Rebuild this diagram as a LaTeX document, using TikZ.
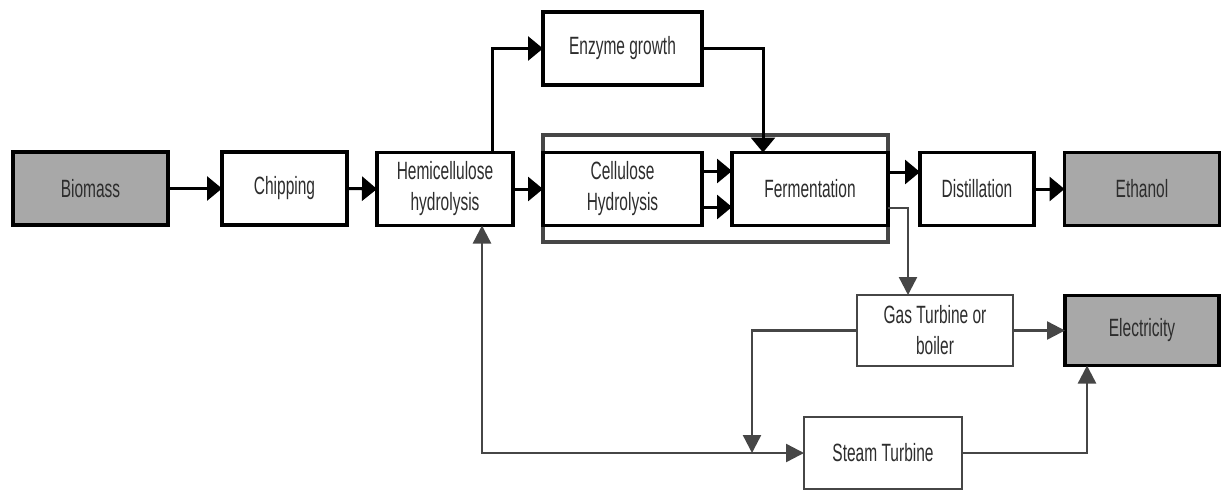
\documentclass[tikz,border=0pt]{standalone}
\usepackage{fontspec}
\setmainfont{Liberation Sans}[FakeStretch=0.62]
\usetikzlibrary{arrows.meta}
\definecolor{boxgray}{RGB}{168,168,168}
\definecolor{linegray}{RGB}{70,70,70}
\definecolor{txt}{RGB}{45,45,45}
\begin{document}
\begin{tikzpicture}[x=1pt,y=-1pt,
  box/.style={draw=black, line width=3.5pt, fill=white, inner sep=0pt, outer sep=0pt,
    align=center, text=txt, font=\fontsize{25}{31}\selectfont,
    minimum width=#1, minimum height=73pt},
  box/.default=156pt,
  graybox/.style={box=#1, fill=boxgray},
  graybox/.default=155pt,
  thinbox/.style={box=#1, draw=linegray, line width=2.6pt, minimum height=71pt},
  thinbox/.default=156pt,
  flow/.style={draw=black, line width=3pt, -{Triangle[length=15pt,width=24pt]}},
  side/.style={draw=linegray, line width=2.4pt, -{Triangle[length=18pt,width=18pt]}},
]
\useasboundingbox (0,0) rectangle (1222,490);

% frame around the hydrolysis / fermentation pair
\node[draw=linegray, line width=3.2pt, fill=white, inner sep=0pt, outer sep=0pt,
  minimum width=345pt, minimum height=107pt] (cellframe) at (715.5,188.5) {};

% main line of boxes
\node[graybox] (biomass) at (90.5,188.5) {Biomass};
\node[box=125pt] (chipping) at (284.5,188.5) {Chipping};
\node[box=136pt] (hemi) at (445,189) {Hemicellulose\\hydrolysis};
\node[box=159pt] (cellulose) at (622.5,189) {Cellulose\\Hydrolysis};
\node[box=156pt] (ferm) at (810,189) {Fermentation};
\node[box=114pt] (dist) at (977,189) {Distillation};
\node[graybox] (ethanol) at (1142,189) {Ethanol};

% side branches
\node[box=159pt] (enzyme) at (622.5,48.5) {Enzyme growth};
\node[thinbox] (gas) at (935,330.5) {Gas Turbine or\\boiler};
\node[graybox=154pt, minimum height=70pt] (elec) at (1142,330.5) {Electricity};
\node[thinbox=158pt, minimum height=72pt] (steam) at (883,453) {Steam Turbine};

\coordinate (split) at (752,453);

% main flow
\draw[flow] (biomass.east) -- (chipping.west);
\draw[flow] (chipping.east) -- (hemi.west);
\draw[flow] (hemi.east) -- (cellulose.west);
\draw[flow] (cellulose.east |- 0,171) -- (ferm.west |- 0,171);
\draw[flow] (cellulose.east |- 0,207) -- (ferm.west |- 0,207);
\draw[flow] (ferm.east |- 0,172) -- (dist.west |- 0,172);
\draw[flow] (dist.east) -- (ethanol.west);

% enzyme loop
\draw[flow] (hemi.north -| 492,0) |- (enzyme.west);
\draw[flow] (enzyme.east) -| (ferm.north -| 763,0);

% energy side
\draw[side] (ferm.east |- 0,208) -| (gas.north -| 908,0);
\draw[side] (gas.east) -- (elec.west);
\draw[side] (gas.west) -| (split);
\draw[side] (split) -- (steam.west);
\draw[side] (split) -| (hemi.south -| 482,0);
\draw[side] (steam.east) -| (elec.south -| 1087,0);
\end{tikzpicture}
\end{document}
